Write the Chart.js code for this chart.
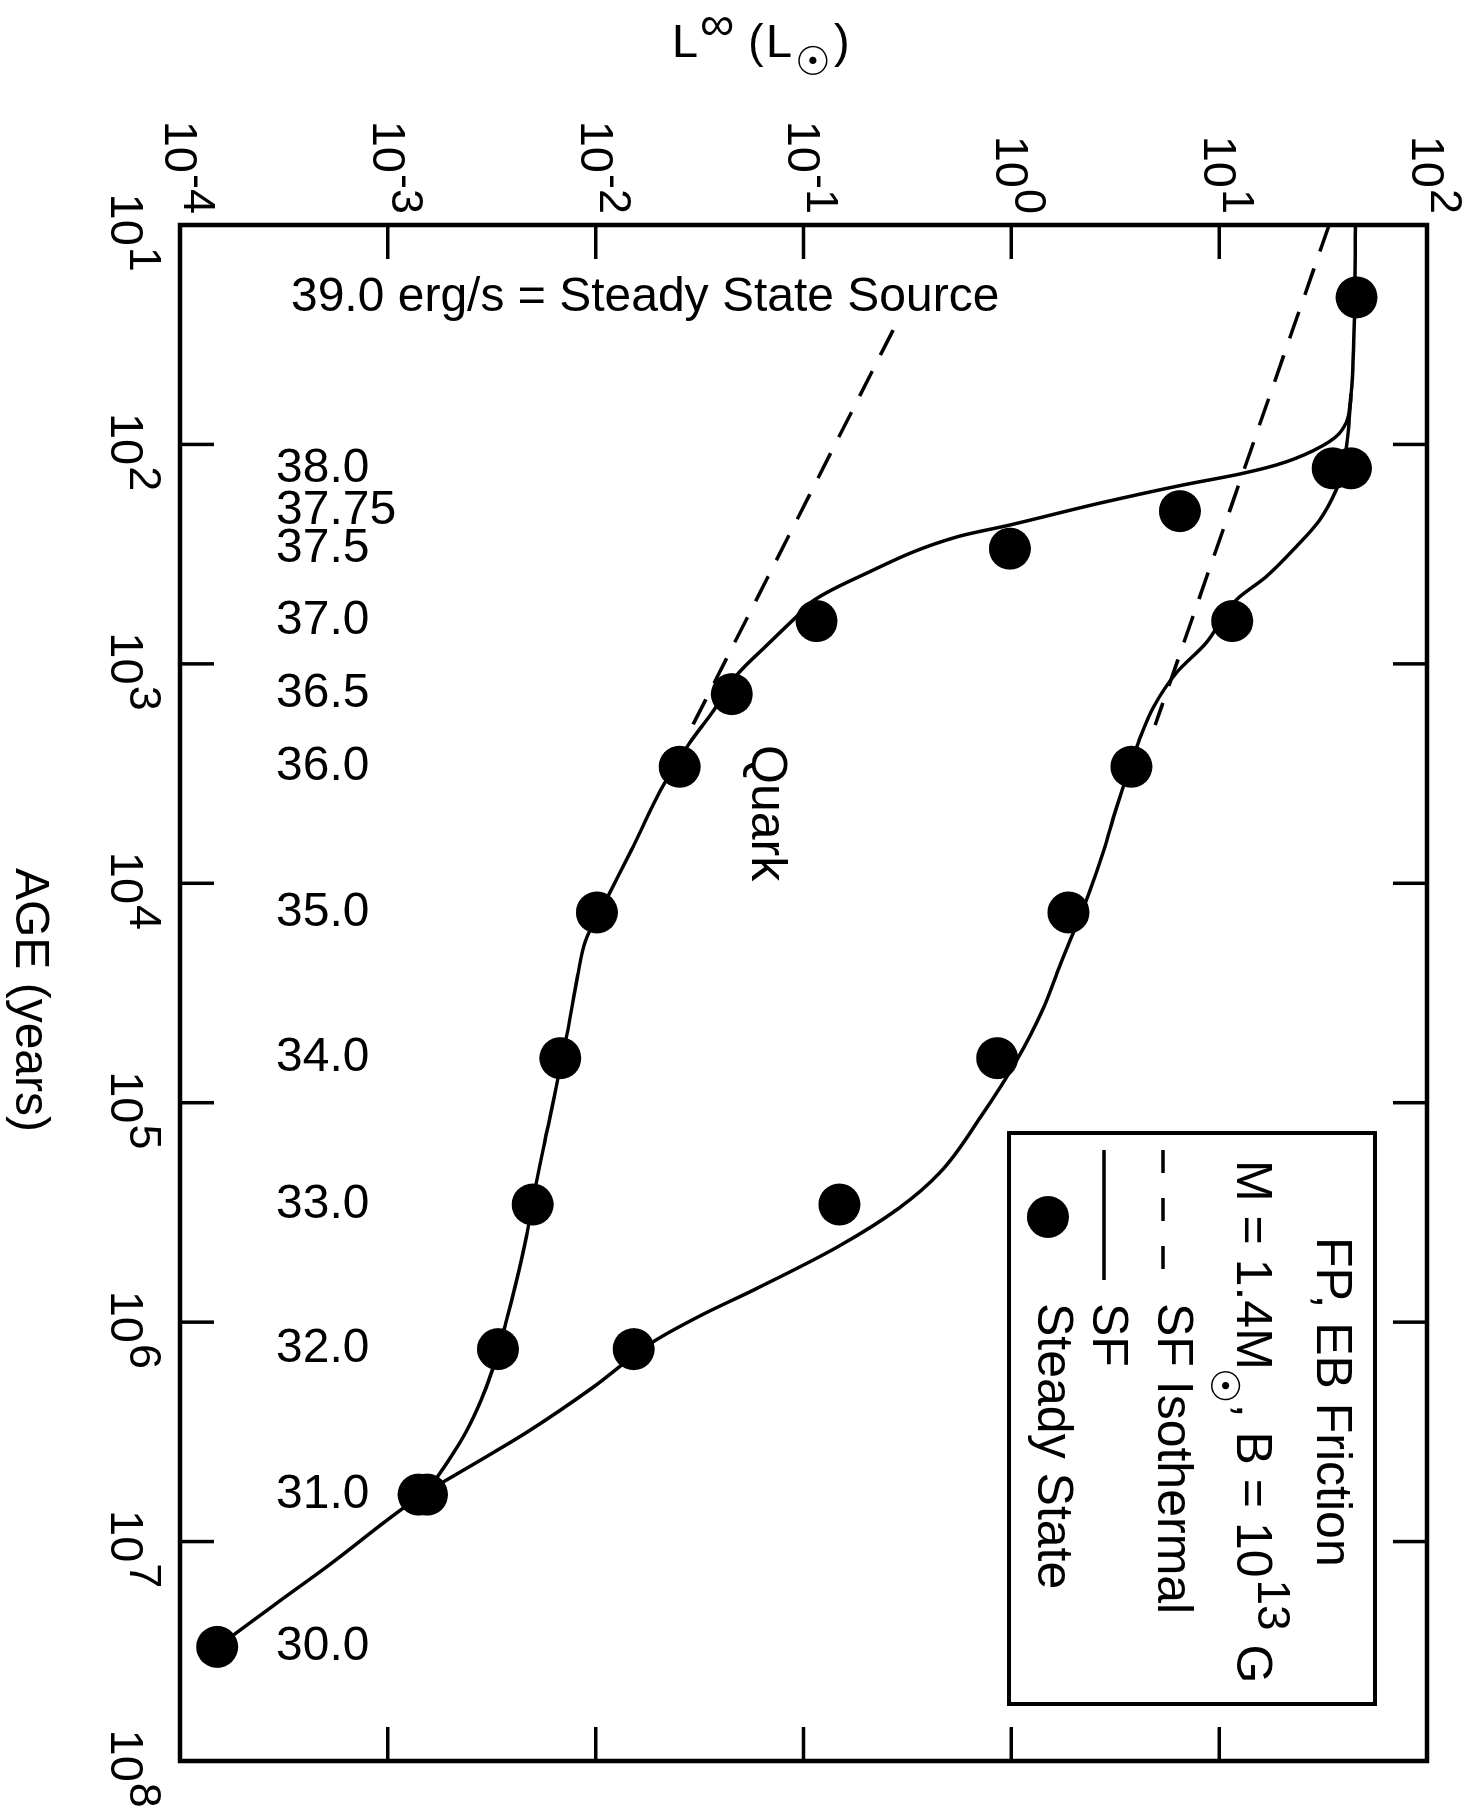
<!DOCTYPE html>
<html><head><meta charset="utf-8">
<script src="https://cdn.jsdelivr.net/npm/chart.js@4.4.1/dist/chart.umd.min.js"></script>
<style>
html,body{margin:0;padding:0;background:#fff;overflow:hidden;width:1478px;height:1817px;}
#wrap{position:absolute;left:0;top:0;width:1817px;height:1478px;transform-origin:0 0;transform:translate(1478px,0) rotate(90deg);background:#fff;}
canvas{display:block;}
</style></head><body>
<div id="wrap"><canvas id="c" width="1817" height="1478"></canvas></div>
<script>
// ---- data (log10 values) ----
// Age axis: log10(age / yr); Luminosity axis: log10(L_inf / L_sun)
const ageTickExp = [1, 2, 3, 4, 5, 6, 7, 8];
const ageTickLabels = ['1', '2', '3', '4', '5', '6', '7', '8'];
const lumTickExp = [-4, -3, -2, -1, 0, 1, 2];
const lumTickLabels = ['-4', '-3', '-2', '-1', '0', '1', '2'];

// SF cooling curve, upper part + steep (quark) branch
const sfQuarkLogAge = [1.0, 1.425, 1.570, 1.767, 1.949, 2.029, 2.094, 2.135, 2.185, 2.268, 2.367, 2.421, 2.603, 2.709, 2.785, 2.922, 3.043, 3.225, 3.362, 3.560, 3.849, 4.056, 4.264, 4.424, 4.680, 5.128, 5.352, 5.608, 5.816, 6.006, 6.226, 6.355, 6.492, 6.599, 6.705, 6.786];
const sfQuarkLogL = [1.656, 1.651, 1.646, 1.635, 1.579, 1.451, 1.274, 1.098, 0.825, 0.424, -0.006, -0.260, -0.733, -0.948, -1.034, -1.184, -1.313, -1.442, -1.549, -1.678, -1.828, -1.939, -2.050, -2.087, -2.136, -2.234, -2.283, -2.333, -2.382, -2.433, -2.500, -2.551, -2.619, -2.686, -2.762, -2.833];

// SF cooling curve, neutron-star branch
const sfLogAge = [1.767, 1.919, 2.018, 2.117, 2.208, 2.345, 2.466, 2.603, 2.709, 2.907, 3.039, 3.197, 3.356, 3.469, 3.673, 3.849, 4.056, 4.376, 4.584, 4.808, 5.064, 5.319, 5.480, 5.656, 5.848, 5.968, 6.087, 6.300, 6.500, 6.650, 6.786, 7.115, 7.290, 7.419, 7.480];
const sfLogL = [1.635, 1.623, 1.611, 1.595, 1.563, 1.483, 1.371, 1.226, 1.082, 0.935, 0.796, 0.684, 0.612, 0.570, 0.500, 0.445, 0.369, 0.233, 0.147, 0.025, -0.147, -0.344, -0.540, -0.834, -1.228, -1.491, -1.719, -2.017, -2.328, -2.592, -2.833, -3.294, -3.548, -3.733, -3.821];

// SF isothermal (dashed) lines
const isoLogAge = [1.0, 3.279];
const isoLogL = [1.529, 0.692];
const isoQuarkLogAge = [1.479, 3.33];
const isoQuarkLogL = [-0.569, -1.56];

// Steady state points
const ssLogAge = [1.330, 2.109, 2.109, 2.304, 2.475, 2.805, 2.805, 3.138, 3.469, 3.469, 4.133, 4.133, 4.797, 4.797, 5.464, 5.464, 6.123, 6.123, 6.786, 6.786, 7.480];
const ssLogL = [1.661, 1.546, 1.634, 0.811, -0.007, -0.937, 1.063, -1.345, -1.596, 0.578, -1.994, 0.275, -2.170, -0.068, -2.303, -0.827, -2.470, -1.817, -2.852, -2.811, -3.821];

// Steady-state source luminosity labels (log erg/s)
const srcLabels = ['38.0', '37.75', '37.5', '37.0', '36.5', '36.0', '35.0', '34.0', '33.0', '32.0', '31.0', '30.0'];
const srcLogAge = [2.109, 2.304, 2.475, 2.805, 3.138, 3.469, 4.133, 4.797, 5.464, 6.123, 6.786, 7.480];
const srcLabelLogL = -3.538;
const topNote = '39.0 erg/s = Steady State Source';
const topNoteLogAge = 1.330, topNoteLogL = -3.466;
const quarkText = 'Quark', quarkLogAge = 3.370, quarkLogL = -1.247;

const legendRows = ['FP, EB Friction', 'SF Isothermal', 'SF', 'Steady State'];
const SUN = '\u2609';

// ---- helpers ----
const FONT = '"Liberation Sans", Arial, Helvetica, sans-serif';
const SYMFONT = '"DejaVu Sans", "Noto Sans", sans-serif';
const P = v => Math.pow(10, v);
const pts = (a, l) => a.map((v, i) => ({x: P(v), y: P(l[i])}));

function rotText(ctx, txt, cx, cy, align, baseline) {
  ctx.save(); ctx.translate(cx, cy); ctx.rotate(-Math.PI / 2);
  ctx.textAlign = align; ctx.textBaseline = baseline; ctx.fillText(txt, 0, 0); ctx.restore();
}
function seg(ctx, x1, y1, x2, y2) { ctx.beginPath(); ctx.moveTo(x1, y1); ctx.lineTo(x2, y2); ctx.stroke(); }

const decor = {
  id: 'decor',
  afterDraw(chart) {
    const {ctx, chartArea: a, scales: {x, y}} = chart;
    const H = chart.height;
    ctx.save();
    ctx.fillStyle = '#000'; ctx.strokeStyle = '#000';
    // frame
    ctx.lineWidth = 4.5;
    ctx.strokeRect(a.left, a.top, a.right - a.left, a.bottom - a.top);
    // inner ticks on all sides
    ctx.lineWidth = 3.5;
    ageTickExp.forEach(e => {
      const px = x.getPixelForValue(P(e));
      seg(ctx, px, a.bottom, px, a.bottom - 34);
      seg(ctx, px, a.top, px, a.top + 34);
    });
    lumTickExp.forEach(e => {
      const py = y.getPixelForValue(P(e));
      seg(ctx, a.left, py, a.left + 34, py);
      seg(ctx, a.right, py, a.right - 34, py);
    });
    // age tick labels
    ctx.textAlign = 'left'; ctx.textBaseline = 'alphabetic';
    ageTickExp.forEach((e, i) => {
      const px = x.getPixelForValue(P(e));
      ctx.font = '47px ' + FONT;
      const w = ctx.measureText('10').width;
      const x0 = px - 31.5;
      ctx.fillText('10', x0, a.bottom + 69);
      ctx.font = '45px ' + FONT;
      ctx.fillText(ageTickLabels[i], x0 + w + 1, a.bottom + 50);
    });
    // luminosity tick labels
    lumTickExp.forEach((e, i) => {
      const py = y.getPixelForValue(P(e));
      ctx.font = '45px ' + FONT;
      const ws = ctx.measureText(lumTickLabels[i]).width;
      ctx.font = '47px ' + FONT;
      const w = ctx.measureText('10').width;
      const xr = a.left - 11;
      const x0 = xr - ws - 1 - w;
      ctx.fillText('10', x0, py + 15);
      ctx.font = '45px ' + FONT;
      ctx.fillText(lumTickLabels[i], x0 + w + 1, py - 4);
    });
    // axis titles
    ctx.font = '48px ' + FONT;
    ctx.textAlign = 'center';
    ctx.fillText('AGE (years)', 1000, 1462);
    // L-axis title (horizontal in the final picture)
    ctx.font = '47px ' + FONT;
    rotText(ctx, 'L', 57, H - 672, 'left', 'alphabetic');
    ctx.font = '48px ' + FONT;
    rotText(ctx, '\u221E', 40, H - 700, 'left', 'alphabetic');
    ctx.font = '47px ' + FONT;
    rotText(ctx, '(', 57, H - 748, 'left', 'alphabetic');
    rotText(ctx, 'L', 57, H - 766, 'left', 'alphabetic');
    ctx.font = '40px ' + SYMFONT;
    rotText(ctx, SUN, 65, H - 813, 'center', 'middle');
    ctx.font = '47px ' + FONT;
    rotText(ctx, ')', 57, H - 834, 'left', 'alphabetic');
    // steady-state source labels
    ctx.font = '48px ' + FONT;
    srcLabels.forEach((t, i) => {
      rotText(ctx, t, x.getPixelForValue(P(srcLogAge[i])), y.getPixelForValue(P(srcLabelLogL)), 'left', 'middle');
    });
    rotText(ctx, topNote, x.getPixelForValue(P(topNoteLogAge)), y.getPixelForValue(P(topNoteLogL)), 'left', 'middle');
    // Quark label
    ctx.font = '50px ' + FONT;
    ctx.textAlign = 'left'; ctx.textBaseline = 'alphabetic';
    ctx.fillText(quarkText, x.getPixelForValue(P(quarkLogAge)), y.getPixelForValue(P(quarkLogL)));
    // legend box
    ctx.lineWidth = 4;
    ctx.strokeRect(1133, 103, 1704 - 1133, 469 - 103);
    ctx.font = '50px ' + FONT;
    ctx.textAlign = 'left'; ctx.textBaseline = 'alphabetic';
    ctx.fillText(legendRows[0], 1237, 161);
    // row 2 with subscript / superscript
    let cx = 1160;
    ctx.fillText('M = 1.4M', cx, 241); cx += ctx.measureText('M = 1.4M').width;
    ctx.font = '40px ' + SYMFONT;
    ctx.textAlign = 'center'; ctx.textBaseline = 'middle';
    ctx.fillText(SUN, cx + 16, 257); cx += 34;
    ctx.textAlign = 'left'; ctx.textBaseline = 'alphabetic';
    ctx.font = '50px ' + FONT;
    ctx.fillText(', B = 10', cx, 241); cx += ctx.measureText(', B = 10').width + 2;
    ctx.font = '46px ' + FONT;
    ctx.fillText('13', cx, 220); cx += ctx.measureText('13').width;
    ctx.font = '50px ' + FONT;
    ctx.fillText(' G', cx, 241);
    // row 3: dashed
    ctx.lineWidth = 3.5;
    ctx.setLineDash([23, 25]);
    seg(ctx, 1150, 315, 1272, 315);
    ctx.setLineDash([]);
    ctx.fillText(legendRows[1], 1303, 320);
    // row 4: solid
    seg(ctx, 1150, 374, 1280, 374);
    ctx.fillText(legendRows[2], 1303, 385);
    // row 5: dot
    ctx.beginPath(); ctx.arc(1217, 430, 21, 0, Math.PI * 2); ctx.fill();
    ctx.fillText(legendRows[3], 1303, 440);
    ctx.restore();
  }
};

const lineStyle = {borderColor: '#000', borderWidth: 3.5, pointRadius: 0, fill: false, cubicInterpolationMode: 'monotone'};

new Chart(document.getElementById('c').getContext('2d'), {
  type: 'line',
  data: {
    datasets: [
      Object.assign({label: 'SF (quark branch)', data: pts(sfQuarkLogAge, sfQuarkLogL)}, lineStyle),
      Object.assign({label: 'SF', data: pts(sfLogAge, sfLogL)}, lineStyle),
      Object.assign({label: 'SF Isothermal', data: pts(isoLogAge, isoLogL), borderDash: [28, 18]}, lineStyle),
      Object.assign({label: 'SF Isothermal (quark)', data: pts(isoQuarkLogAge, isoQuarkLogL), borderDash: [28, 18]}, lineStyle),
      {label: 'Steady State', data: pts(ssLogAge, ssLogL), showLine: false, pointRadius: 21, pointHoverRadius: 21,
       pointBackgroundColor: '#000', pointBorderColor: '#000', pointBorderWidth: 0, pointStyle: 'circle'}
    ]
  },
  options: {
    responsive: false, animation: false, devicePixelRatio: 1, events: [],
    layout: {padding: {left: 225, right: 56, top: 51, bottom: 180}},
    plugins: {legend: {display: false}, tooltip: {enabled: false}},
    scales: {
      x: {type: 'logarithmic', min: 10, max: 1e8, display: false},
      y: {type: 'logarithmic', min: 1e-4, max: 100, display: false}
    }
  },
  plugins: [decor]
});
</script>
</body></html>
